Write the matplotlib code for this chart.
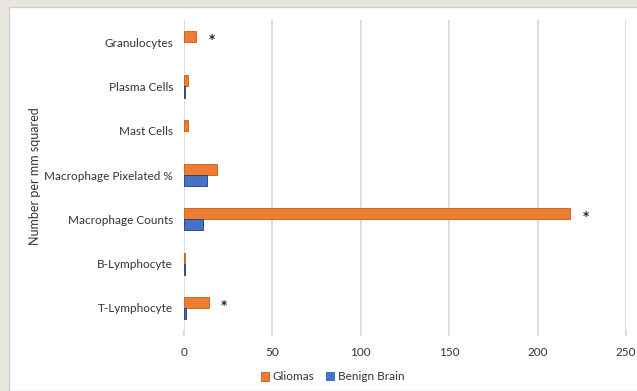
import numpy as np
import matplotlib.pyplot as plt
from matplotlib.patches import Rectangle

plt.rcParams['font.family'] = ['Lato', 'DejaVu Sans']

cells = ["Granulocytes", "Plasma Cells", "Mast Cells", "Macrophage Pixelated %",
         "Macrophage Counts", "B-Lymphocyte", "T-Lymphocyte"]
gliomas = [7, 2, 2.5, 18.5, 218.5, 0.8, 14]
benign = [0, 0.6, 0, 13, 10.5, 0.3, 1]
significant = [True, False, False, False, True, False, True]
xticks = [0, 50, 100, 150, 200, 250]

fig = plt.figure(figsize=(6.37, 3.91), dpi=100, facecolor='#e9e6df')
fig.patches.append(Rectangle((9/637, 0), 1, 1 - 7/391, transform=fig.transFigure,
                             facecolor='white', edgecolor='#cfcfcf', lw=1, zorder=-5))
ax = fig.add_axes([184/637, 61/391, 442/637, 310/391])
ax.set_facecolor('none')
ax.set_zorder(2)

y = np.arange(len(cells))
h = 0.25
ax.barh(y - h/2, gliomas, height=h, color='#ed7d31', edgecolor='#c55a11',
        lw=[0.6 if v > 0 else 0 for v in gliomas], label='Gliomas', zorder=3)
ax.barh(y + h/2, benign, height=h, color='#4472c4', edgecolor='#1f3a7a',
        lw=[0.6 if v > 0 else 0 for v in benign], label='Benign Brain', zorder=3)

# significance markers
for i in range(len(cells)):
    if significant[i]:
        ax.annotate('*', (gliomas[i], y[i] - h/2), xytext=(11, -2), textcoords='offset points',
                    ha='center', va='center', fontsize=8.5, color='#222222',
                    family='DejaVu Sans', fontweight='bold')

ax.set_ylim(len(cells) - 0.5, -0.5)
ax.set_xlim(0, 250)
ax.set_xticks(xticks)
ax.set_yticks(y)
ax.set_yticklabels(cells)
ax.grid(axis='x', color='#d9d9d9', lw=1.3, zorder=0)
for s in ax.spines.values():
    s.set_visible(False)
ax.tick_params(axis='y', length=0, pad=8, labelsize=8.5, labelcolor='#333333')
ax.tick_params(axis='x', length=4, color='#d9d9d9', width=1.3, pad=8, labelsize=8.5,
               labelcolor='#333333')

fig.text(35/637, 1 - 176/391, 'Number per mm squared', rotation=90,
         ha='center', va='center', fontsize=9, color='#333333')

fig.legend(loc='center', bbox_to_anchor=(333/637, 14/391), ncol=2, frameon=False,
           fontsize=8.5, handlelength=0.7, handleheight=0.7, handletextpad=0.3,
           columnspacing=1.0, labelcolor='#333333')

fig.savefig('out.png', dpi=100, facecolor=fig.get_facecolor())
